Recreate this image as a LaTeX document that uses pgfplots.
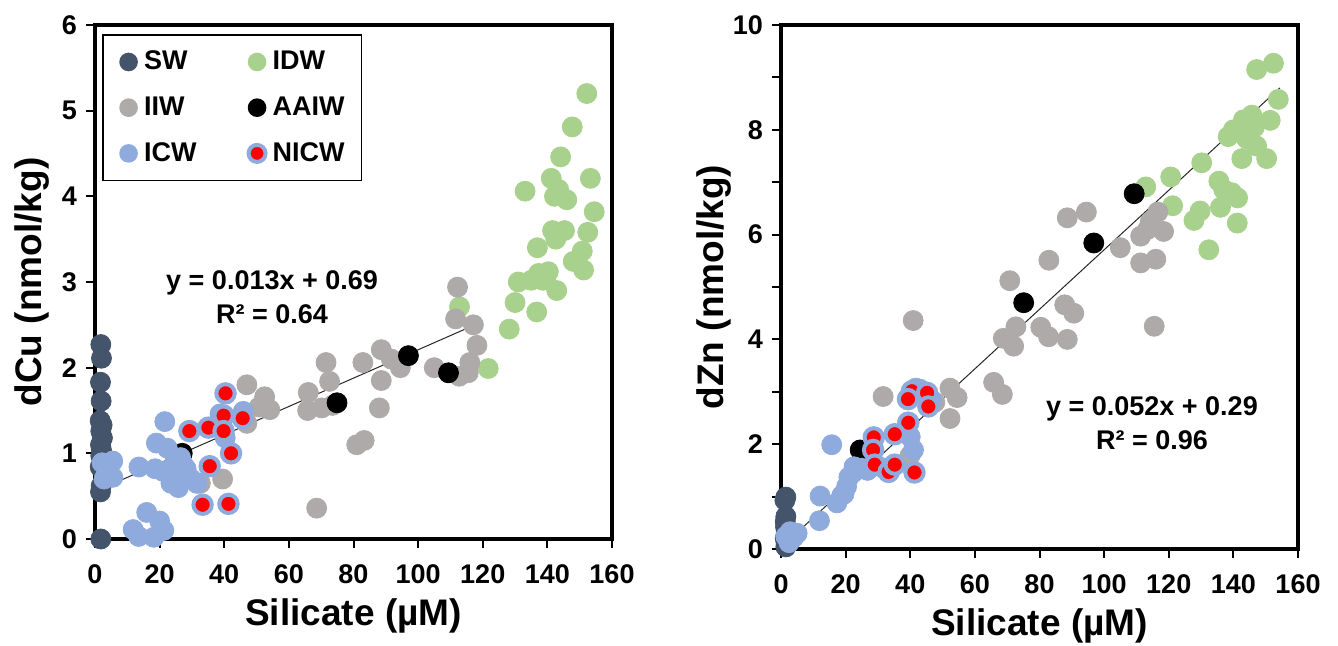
\documentclass[border=0pt]{standalone}
\usepackage{fontspec}
\setmainfont{Liberation Sans}
\usepackage{pgfplots}
\pgfplotsset{compat=1.18}

\definecolor{swc}{HTML}{44546A}
\definecolor{idwc}{HTML}{A9D18E}
\definecolor{iiwc}{HTML}{AEAAAA}
\definecolor{icwc}{HTML}{8FAADC}

\newcommand{\smallbf}{\fontsize{13.5}{17}\selectfont\bfseries}
\newcommand{\labbf}{\fontsize{18.5}{22}\selectfont\bfseries}

\pgfplotsset{
  panel/.style={
    scale only axis,
    width=258.5pt,
    axis line style={line width=1.6pt},
    every tick/.style={line width=1pt, black},
    major tick length=4.5pt, minor tick length=4.5pt,
    tick align=outside,
    tick pos=left,
    xmin=0, xmax=160, xtick={0,20,...,160},
    /pgf/number format/assume math mode=true,
    ticklabel style={font=\smallbf},
    xticklabel style={yshift=-5pt},
    yticklabel style={xshift=-1pt},
    label style={font=\labbf},
    xlabel={Silicate (µM)},
    xlabel style={at={(axis description cs:0.5,0)}, anchor=base, yshift=-43.5pt},
    legend image code/.code={\draw[#1, mark size=4.25pt] plot coordinates {(0pt,0pt)};},
  },
  sw/.style={only marks, mark=*, mark size=5pt, color=swc},
  idw/.style={only marks, mark=*, mark size=5pt, color=idwc},
  iiw/.style={only marks, mark=*, mark size=5pt, color=iiwc},
  aaiw/.style={only marks, mark=*, mark size=5pt, color=black},
  icw/.style={only marks, mark=*, mark size=5pt, color=icwc},
  nicw/.style={only marks, mark=*, mark size=4.6pt, mark options={draw=icwc, fill=red, line width=2pt}},
  trend/.style={no marks, line width=0.5pt, black!85, forget plot},
}

\begin{document}
\begin{tikzpicture}
\useasboundingbox (0,0) rectangle (669pt,323pt);

% ---------------- dissolved Cu vs silicate ----------------
\begin{axis}[panel,
  at={(47.5pt,53.5pt)}, anchor=south west,
  height=257pt,
  ymin=0, ymax=6, ytick={0,...,6},
  ylabel={dCu (nmol/kg)},
  ylabel style={at={(axis description cs:-0.1044,0.5)}, anchor=base},
  legend columns=2,
  legend cell align=left,
  legend style={at={(axis description cs:0.0141,0.982)}, anchor=north west,
    draw=black, line width=0.8pt, fill=white, font=\smallbf,
    inner xsep=8.5pt, inner ysep=8pt, row sep=12pt,
    nodes={inner sep=0pt},
    /tikz/every odd column/.append style={column sep=3.5pt},
    /tikz/every even column/.append style={column sep=26pt}},
]
\addplot[sw] coordinates {
 (1.8,2.27) (2.0,2.11) (1.7,1.83) (1.9,1.61) (1.6,1.38) (2.2,1.33) (1.8,1.26)
 (2.3,1.18) (1.7,1.10) (2.0,1.04) (1.8,0.97) (1.6,0.84) (1.9,0.62) (1.7,0.55) (1.8,0.0)};
\addlegendentry{SW}
\addplot[idw] coordinates {
 (152.2,5.20) (147.7,4.81) (144.1,4.46) (153.3,4.21) (133.1,4.06) (141.2,4.21)
 (143.5,4.08) (146.0,3.96) (142.2,4.00) (154.5,3.82) (141.6,3.60) (145.3,3.60)
 (142.6,3.50) (152.5,3.58) (136.9,3.40) (150.8,3.36) (148.0,3.24) (151.2,3.14)
 (131.0,3.00) (135.0,3.02) (137.3,3.10) (140.3,3.12) (138.6,3.02) (142.9,2.90)
 (130.0,2.76) (136.7,2.65) (128.2,2.45) (112.8,2.71) (121.7,1.99) (139.5,3.05)};
\addlegendentry{IDW}
\addplot[iiw] coordinates {
 (112.2,2.94) (111.6,2.57) (117.1,2.50) (118.2,2.26) (116.0,2.06) (115.5,1.94)
 (112.7,1.90) (105.0,2.00) (94.5,2.00) (91.7,2.10) (88.6,2.21) (88.6,1.85)
 (88.0,1.53) (82.9,2.06) (83.3,1.15) (81.0,1.10) (71.5,2.06) (72.6,1.84)
 (66.0,1.71) (65.8,1.50) (70.2,1.53) (73.5,1.56) (68.6,0.36) (52.5,1.66)
 (54.1,1.51) (50.8,1.54) (47.0,1.80) (47.0,1.35) (39.5,0.70) (32.6,0.65)};
\addlegendentry{IIW}
\addplot[aaiw] coordinates {(27.0,1.00) (74.9,1.59) (97.0,2.14) (109.4,1.94)};
\addlegendentry{AAIW}
\addplot[icw] coordinates {
 (2.2,0.89) (5.5,0.91) (2.8,0.70) (5.5,0.72) (3.6,0.80) (13.6,0.84) (21.6,1.37)
 (19.0,1.12) (22.4,1.06) (18.6,0.82) (21.0,0.79) (24.0,0.72) (25.8,0.60)
 (28.2,0.82) (29.8,0.70) (31.5,0.65) (26.5,0.95) (24.7,0.90) (27.4,0.86)
 (23.5,0.65) (11.8,0.11) (16.0,0.31) (20.0,0.21) (13.5,0.03) (18.2,0.02)
 (21.3,0.10) (38.7,1.46) (45.9,1.49) (40.3,1.18)};
\addlegendentry{ICW}
\addplot[nicw] coordinates {
 (40.4,1.70) (39.8,1.44) (45.7,1.41) (35.1,1.30) (29.2,1.26) (39.8,1.26)
 (42.1,1.00) (35.5,0.85) (33.3,0.40) (41.3,0.41)};
\addlegendentry{NICW}
\addplot[trend] coordinates {(3.4,0.61) (120,2.54)};
\node[font=\smallbf, align=center] at (axis cs:54.8,2.82) {y = 0.013x + 0.69\\R² = 0.64};
\end{axis}

% ---------------- dissolved Zn vs silicate ----------------
\begin{axis}[panel,
  at={(390.5pt,48.5pt)}, anchor=south west,
  height=262pt,
  ymin=0, ymax=10, ytick={0,2,...,10}, minor ytick={1,3,...,9},
  ylabel={dZn (nmol/kg)},
  ylabel style={at={(axis description cs:-0.1103,0.5)}, anchor=base},
]
\addplot[sw] coordinates {
 (1.5,0.99) (1.2,0.93) (1.5,0.62) (1.3,0.52) (1.4,0.42) (1.6,0.30) (1.3,0.20)
 (1.6,0.11) (1.5,0.04)};
\addplot[idw] coordinates {
 (147.2,9.15) (152.4,9.27) (153.9,8.58) (151.4,8.18) (145.7,8.28) (143.1,8.19)
 (140.0,8.00) (138.4,7.87) (144.1,7.83) (147.2,7.69) (142.6,7.45) (150.3,7.45)
 (130.2,7.37) (120.6,7.10) (112.9,6.91) (121.2,6.55) (135.5,7.02) (137.0,6.86)
 (139.5,6.80) (141.3,6.70) (136.0,6.52) (129.7,6.45) (127.8,6.27) (141.2,6.22)
 (132.4,5.71) (146.5,8.05)};
\addplot[iiw] coordinates {
 (40.9,4.36) (31.6,2.91) (52.3,3.07) (54.5,2.89) (52.3,2.49) (47.6,2.80)
 (65.8,3.18) (68.5,2.95) (68.8,4.02) (72.0,3.87) (72.7,4.24) (70.8,5.12)
 (80.4,4.23) (82.8,4.05) (82.9,5.51) (88.6,4.00) (87.8,4.66) (90.6,4.50)
 (88.6,6.32) (94.5,6.43) (105.0,5.75) (111.3,5.46) (116.0,5.53) (111.3,5.97)
 (114.3,6.25) (116.6,6.43) (118.4,6.06) (113.5,6.10) (115.5,4.25) (39.9,1.78)};
\addplot[aaiw] coordinates {(24.5,1.89) (75.1,4.70) (96.8,5.84) (109.3,6.78)};
\addplot[icw] coordinates {
 (15.7,1.99) (12.1,1.01) (11.9,0.54) (2.8,0.33) (3.9,0.22) (1.5,0.24) (5.0,0.30)
 (2.5,0.12) (17.3,0.88) (18.8,1.02) (19.5,1.05) (20.3,1.19) (21.0,1.37)
 (22.4,1.46) (22.6,1.57) (25.0,1.54) (26.8,1.50) (28.8,1.60) (31.5,1.55)
 (41.0,1.89) (40.0,2.14) (39.2,2.42) (41.7,3.07) (43.0,3.05) (46.5,2.85)};
\addplot[nicw] coordinates {
 (40.5,3.01) (39.3,2.86) (45.2,2.98) (45.6,2.72) (39.4,2.41) (35.2,2.19)
 (28.7,2.13) (28.5,1.89) (29.0,1.61) (33.3,1.47) (35.2,1.61) (41.3,1.46)};
\addplot[trend] coordinates {(0.0,0.03) (154.4,8.80)};
\node[font=\smallbf, align=center] at (axis cs:114.8,2.41) {y = 0.052x + 0.29\\R² = 0.96};
\end{axis}
\end{tikzpicture}
\end{document}
